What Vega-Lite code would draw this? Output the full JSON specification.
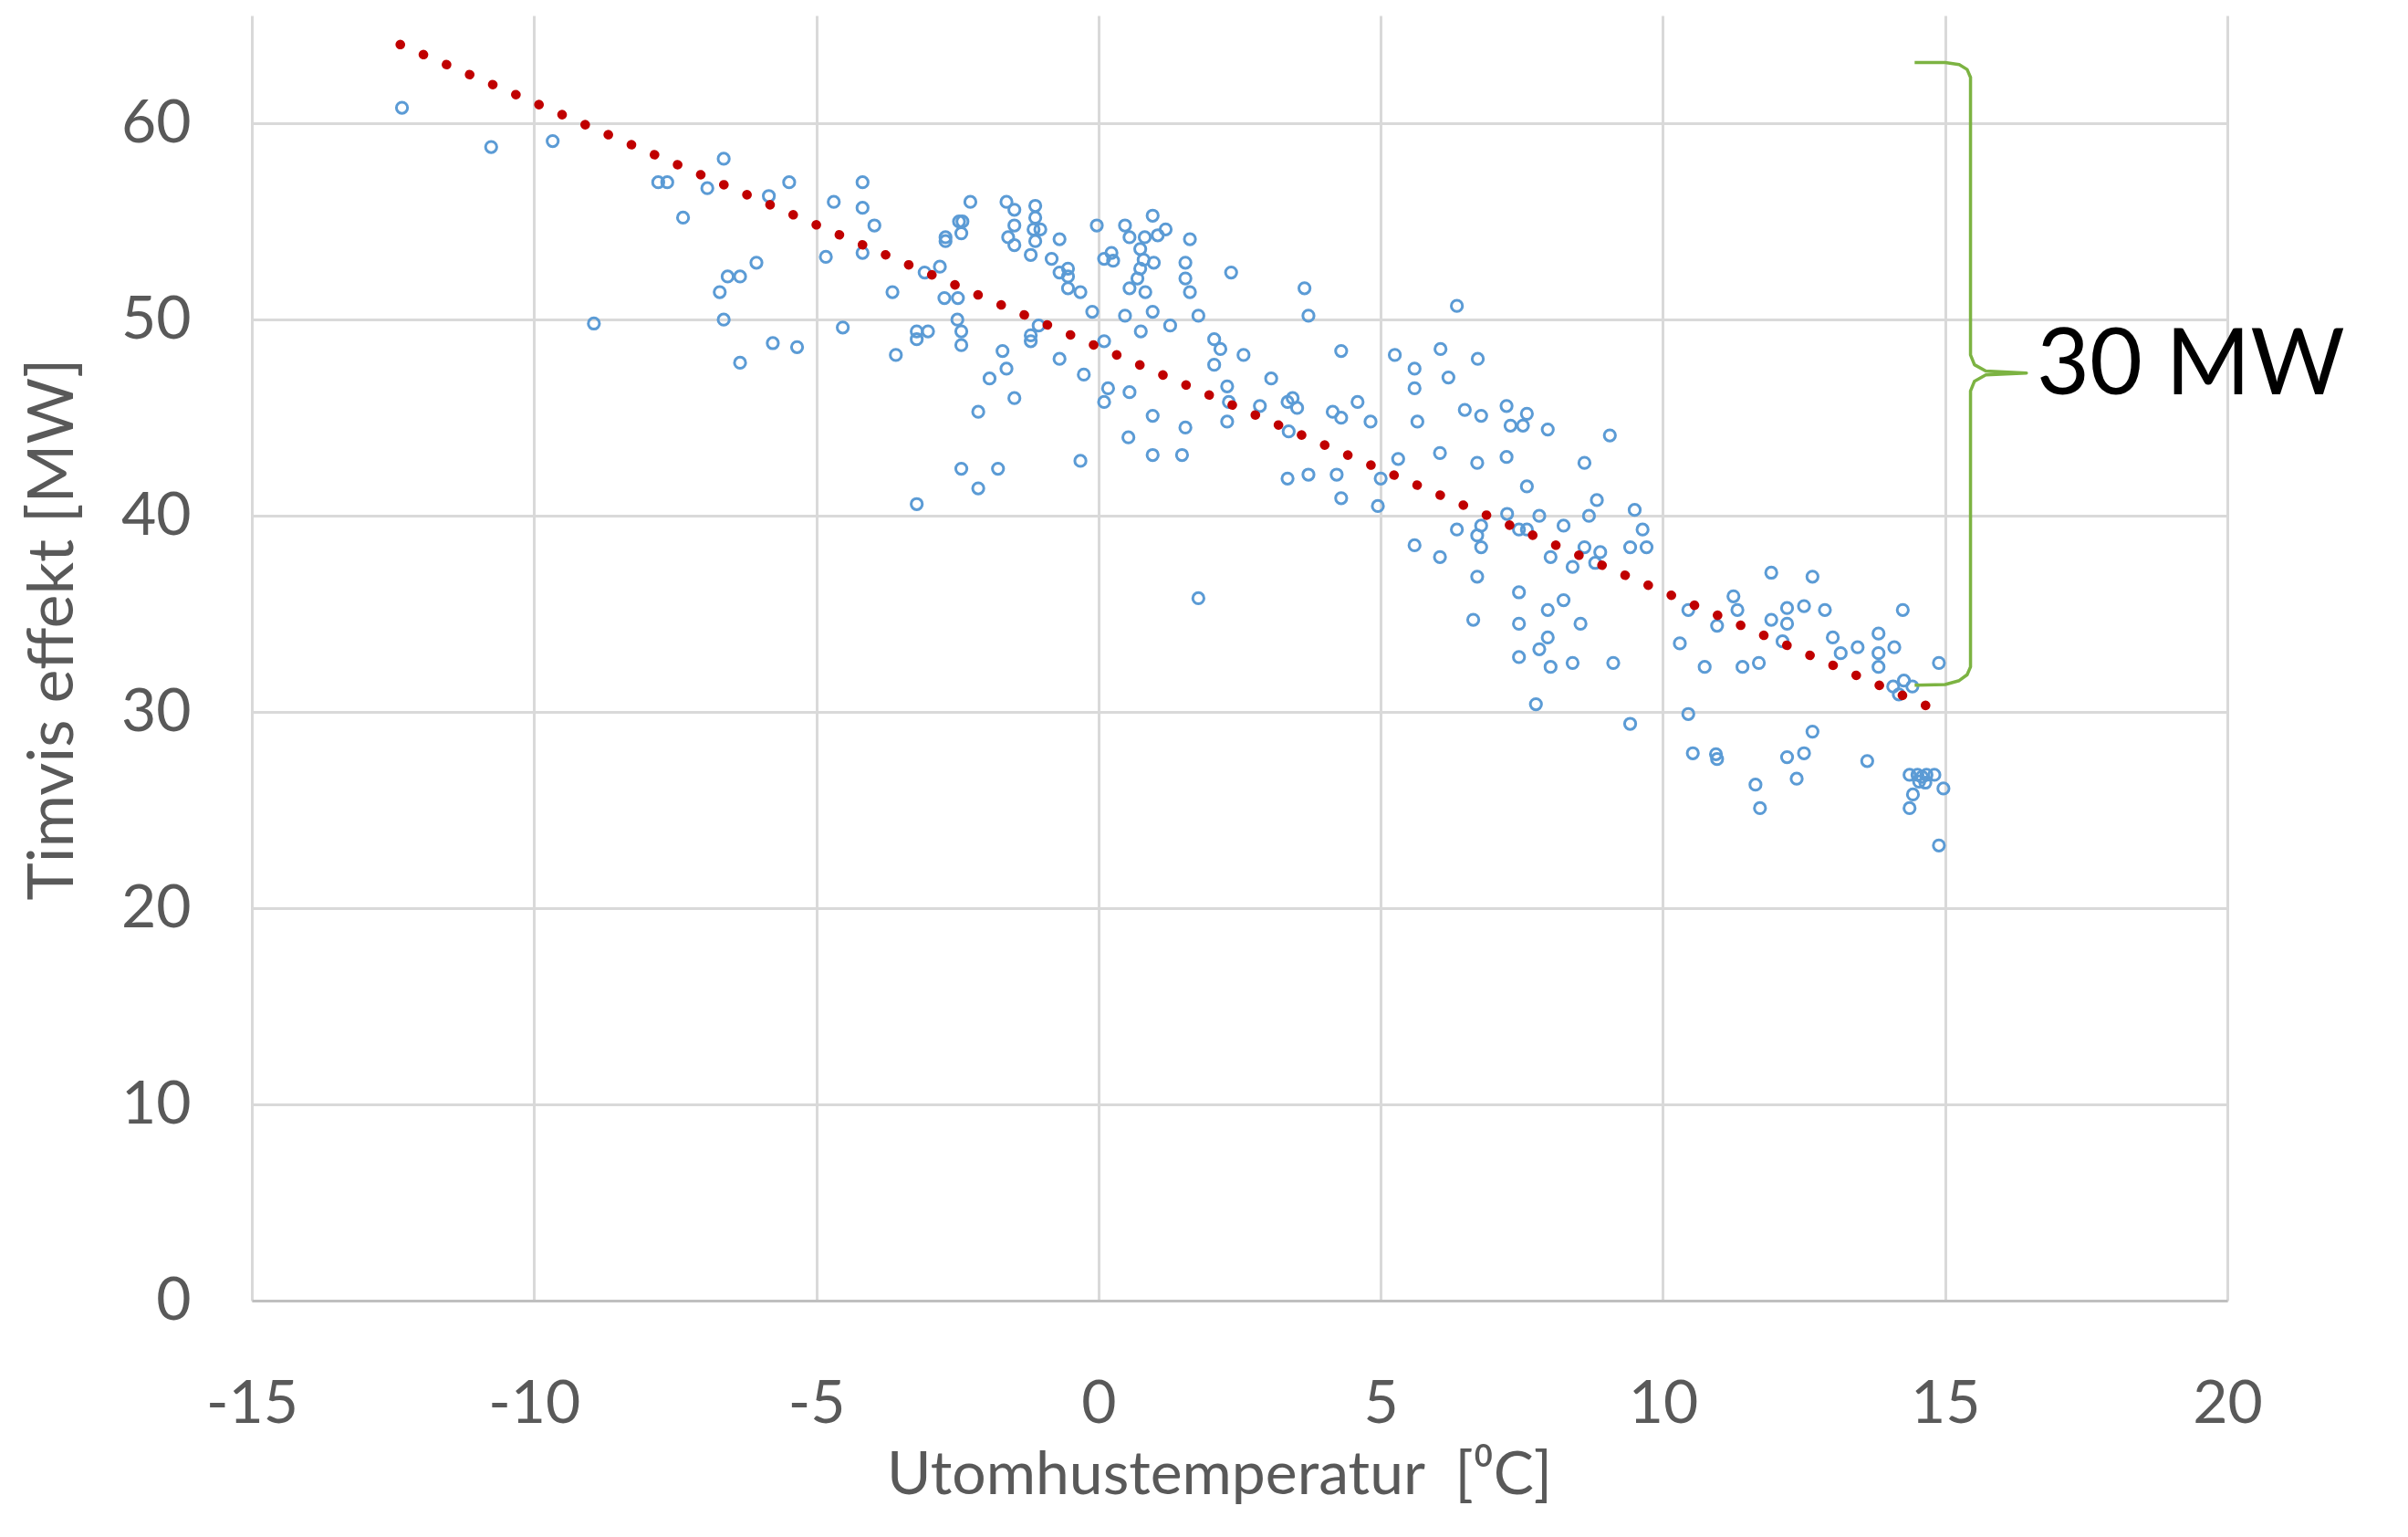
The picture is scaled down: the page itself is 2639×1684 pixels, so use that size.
{
  "$schema": "https://vega.github.io/schema/vega-lite/v6.json",
  "width": 2165,
  "height": 1408,
  "autosize": {"type": "none"},
  "padding": {"left": 276, "top": 17, "right": 198, "bottom": 259},
  "background": "#ffffff",
  "datasets": {
    "pts": [
      {"T":-12.34,"P":60.8},{"T":-10.76,"P":58.8},{"T":-9.67,"P":59.1},{"T":-8.94,"P":49.8},{"T":-6.64,"P":58.2},
      {"T":-7.80,"P":57.0},{"T":-7.64,"P":57.0},{"T":-6.93,"P":56.7},{"T":-7.36,"P":55.2},{"T":-5.84,"P":56.3},
      {"T":-5.48,"P":57.0},{"T":-4.69,"P":56.0},{"T":-4.18,"P":57.0},{"T":-4.18,"P":55.7},{"T":-3.97,"P":54.8},
      {"T":-4.83,"P":53.2},{"T":-4.18,"P":53.4},{"T":-6.06,"P":52.9},{"T":-6.57,"P":52.2},{"T":-6.35,"P":52.2},
      {"T":-6.71,"P":51.4},{"T":-6.64,"P":50.0},{"T":-5.77,"P":48.8},{"T":-5.34,"P":48.6},{"T":-6.35,"P":47.8},
      {"T":-4.53,"P":49.6},
      {"T":-3.65,"P":51.4},{"T":-3.59,"P":48.2},{"T":-3.08,"P":52.4},{"T":-2.81,"P":52.7},{"T":-2.71,"P":54.2},
      {"T":-2.71,"P":54.0},{"T":-2.47,"P":55.0},{"T":-2.41,"P":55.0},{"T":-2.43,"P":54.4},{"T":-2.27,"P":56.0},
      {"T":-2.73,"P":51.1},{"T":-2.49,"P":51.1},{"T":-2.50,"P":50.0},{"T":-2.43,"P":49.4},{"T":-2.43,"P":48.7},
      {"T":-3.22,"P":49.4},{"T":-3.02,"P":49.4},{"T":-3.22,"P":49.0},{"T":-2.13,"P":45.3},{"T":-2.43,"P":42.4},
      {"T":-2.13,"P":41.4},{"T":-1.78,"P":42.4},{"T":-3.22,"P":40.6},{"T":-1.63,"P":56.0},{"T":-1.49,"P":55.6},
      {"T":-1.49,"P":54.8},{"T":-1.49,"P":53.8},{"T":-1.60,"P":54.2},{"T":-1.12,"P":55.8},{"T":-1.12,"P":55.2},
      {"T":-1.15,"P":54.6},{"T":-1.03,"P":54.6},{"T":-1.12,"P":54.0},{"T":-1.20,"P":53.3},{"T":-0.69,"P":54.1},
      {"T":-0.83,"P":53.1},{"T":-0.69,"P":52.4},{"T":-0.54,"P":52.6},{"T":-0.54,"P":52.2},{"T":-0.54,"P":51.6},
      {"T":-0.32,"P":51.4},{"T":-1.06,"P":49.7},{"T":-1.20,"P":49.2},{"T":-1.20,"P":48.9},{"T":-1.70,"P":48.4},
      {"T":-1.63,"P":47.5},{"T":-1.93,"P":47.0},{"T":-1.49,"P":46.0},{"T":-0.69,"P":48.0},{"T":-0.26,"P":47.2},
      {"T":-0.11,"P":50.4},{"T":-0.03,"P":54.8},{"T":-0.32,"P":42.8},{"T":0.10,"P":48.9},{"T":0.23,"P":53.4},
      {"T":0.10,"P":53.1},{"T":0.26,"P":53.0},{"T":0.47,"P":54.8},{"T":0.55,"P":54.2},{"T":0.96,"P":55.3},
      {"T":0.82,"P":54.2},{"T":0.74,"P":53.6},{"T":0.80,"P":53.05},{"T":0.74,"P":52.6},{"T":0.69,"P":52.1},
      {"T":1.05,"P":54.3},{"T":1.19,"P":54.6},{"T":0.98,"P":52.9},{"T":0.55,"P":51.6},{"T":0.83,"P":51.4},
      {"T":0.47,"P":50.2},{"T":0.96,"P":50.4},{"T":0.75,"P":49.4},{"T":1.27,"P":49.7},{"T":1.62,"P":54.1},
      {"T":1.54,"P":52.9},{"T":1.54,"P":52.1},{"T":1.62,"P":51.4},{"T":1.77,"P":50.2},{"T":2.35,"P":52.4},
      {"T":0.17,"P":46.5},{"T":0.10,"P":45.8},{"T":0.55,"P":46.3},{"T":0.53,"P":44.0},{"T":0.96,"P":45.1},
      {"T":1.54,"P":44.5},{"T":0.96,"P":43.1},{"T":1.48,"P":43.1},{"T":1.77,"P":35.8},{"T":2.05,"P":49.0},
      {"T":2.16,"P":48.5},{"T":2.05,"P":47.7},{"T":2.57,"P":48.2},{"T":2.28,"P":46.6},{"T":2.31,"P":45.8},
      {"T":2.28,"P":44.8},{"T":2.86,"P":45.6},{"T":3.06,"P":47.0},{"T":3.35,"P":45.8},{"T":3.44,"P":46.0},
      {"T":3.52,"P":45.5},{"T":3.37,"P":44.3},{"T":3.65,"P":51.6},{"T":3.72,"P":50.2},{"T":4.30,"P":48.4},
      {"T":4.15,"P":45.3},{"T":4.30,"P":45.0},{"T":4.59,"P":45.8},{"T":3.35,"P":41.9},{"T":3.72,"P":42.1},
      {"T":4.22,"P":42.1},{"T":4.30,"P":40.9},{"T":4.82,"P":44.8},{"T":4.95,"P":40.5},{"T":5.00,"P":41.9},
      {"T":5.31,"P":42.9},{"T":5.25,"P":48.2},{"T":5.60,"P":47.5},{"T":5.60,"P":46.5},{"T":5.65,"P":44.8},
      {"T":5.60,"P":38.5},
      {"T":6.35,"P":50.7},{"T":6.06,"P":48.5},{"T":6.72,"P":48.0},{"T":6.20,"P":47.05},{"T":6.05,"P":43.2},
      {"T":6.49,"P":45.4},{"T":6.78,"P":45.1},{"T":7.23,"P":45.6},{"T":7.30,"P":44.6},{"T":7.52,"P":44.6},
      {"T":7.59,"P":45.2},{"T":7.96,"P":44.4},{"T":9.06,"P":44.1},{"T":6.71,"P":42.7},{"T":7.23,"P":43.0},
      {"T":8.61,"P":42.7},{"T":7.59,"P":41.5},{"T":8.83,"P":40.8},{"T":8.69,"P":40.0},{"T":9.50,"P":40.3},
      {"T":9.64,"P":39.3},{"T":6.35,"P":39.3},{"T":6.71,"P":39.0},{"T":6.78,"P":39.5},{"T":6.78,"P":38.4},
      {"T":7.24,"P":40.1},{"T":7.45,"P":39.3},{"T":7.59,"P":39.3},{"T":7.81,"P":40.0},{"T":8.24,"P":39.5},
      {"T":6.71,"P":36.9},{"T":7.45,"P":36.1},{"T":7.96,"P":35.2},{"T":8.24,"P":35.7},{"T":8.54,"P":34.5},
      {"T":6.64,"P":34.7},{"T":7.45,"P":34.5},{"T":7.96,"P":33.8},{"T":7.81,"P":33.2},{"T":7.45,"P":32.8},
      {"T":8.01,"P":32.3},{"T":8.40,"P":32.5},{"T":9.12,"P":32.5},{"T":7.75,"P":30.4},{"T":8.01,"P":37.9},
      {"T":8.40,"P":37.4},{"T":8.61,"P":38.4},{"T":8.89,"P":38.15},{"T":8.80,"P":37.6},{"T":9.42,"P":38.4},
      {"T":9.71,"P":38.4},{"T":9.42,"P":29.4},{"T":6.05,"P":37.9},{"T":10.30,"P":33.5},{"T":10.45,"P":35.2},
      {"T":10.74,"P":32.3},{"T":10.96,"P":34.4},{"T":11.25,"P":35.9},{"T":11.32,"P":35.2},{"T":11.41,"P":32.3},
      {"T":11.70,"P":32.5},{"T":11.92,"P":37.1},{"T":11.92,"P":34.7},{"T":12.20,"P":35.3},{"T":12.20,"P":34.5},
      {"T":12.50,"P":35.4},{"T":12.65,"P":36.9},{"T":12.87,"P":35.2},{"T":12.12,"P":33.6},{"T":13.01,"P":33.8},
      {"T":13.15,"P":33.0},{"T":13.45,"P":33.3},{"T":13.82,"P":34.0},{"T":13.82,"P":33.0},{"T":13.82,"P":32.3},
      {"T":14.10,"P":33.3},{"T":14.25,"P":35.2},{"T":14.08,"P":31.3},{"T":14.27,"P":31.6},{"T":14.42,"P":31.3},
      {"T":14.18,"P":30.9},{"T":10.45,"P":29.9},{"T":10.53,"P":27.9},{"T":10.94,"P":27.85},{"T":10.96,"P":27.6},
      {"T":12.20,"P":27.7},{"T":12.50,"P":27.9},{"T":12.65,"P":29.0},{"T":13.62,"P":27.5},
      {"T":14.37,"P":26.8},{"T":14.51,"P":26.8},{"T":14.59,"P":26.7},{"T":14.67,"P":26.8},{"T":14.81,"P":26.8},
      {"T":14.54,"P":26.45},{"T":14.65,"P":26.4},{"T":14.97,"P":26.1},{"T":14.43,"P":25.8},{"T":14.37,"P":25.1},
      {"T":14.89,"P":23.2},{"T":14.89,"P":32.5},{"T":11.64,"P":26.3},{"T":11.72,"P":25.1},{"T":12.37,"P":26.6}
    ],
    "trend": [
      {"T":-12.37,"P":64.02},{"T":14.70,"P":30.28}
    ],
    "brace": [
      {"T":14.46,"P":63.10,"i":1},{"T":15.00,"P":63.10,"i":2},{"T":15.25,"P":63.00,"i":3},{"T":15.39,"P":62.75,"i":4},
      {"T":15.45,"P":62.35,"i":5},{"T":15.45,"P":48.20,"i":6},{"T":15.52,"P":47.70,"i":7},{"T":15.72,"P":47.38,"i":8},
      {"T":16.44,"P":47.28,"i":9},{"T":15.72,"P":47.18,"i":10},{"T":15.52,"P":46.86,"i":11},{"T":15.45,"P":46.36,"i":12},
      {"T":15.45,"P":32.30,"i":13},{"T":15.39,"P":31.90,"i":14},{"T":15.25,"P":31.60,"i":15},{"T":15.00,"P":31.40,"i":16},
      {"T":14.46,"P":31.37,"i":17}
    ],
    "note": [
      {"T":16.62,"P":46.2,"label":"30 MW"}
    ]
  },
  "encoding": {
    "x": {
      "field": "T", "type": "quantitative",
      "scale": {"domain": [-15, 20], "nice": false, "zero": false},
      "axis": {
        "values": [-15, -10, -5, 0, 5, 10, 15, 20],
        "labelExpr": "'' + datum.value",
        "grid": true, "gridColor": "#d9d9d9", "gridWidth": 3,
        "domain": true, "domainColor": "#bfbfbf", "domainWidth": 3,
        "ticks": false, "tickSize": 0,
        "labelPadding": 81, "labelFontSize": 66, "labelColor": "#595959", "labelFont": "Lato",
        "labelFlush": false, "labelOverlap": false,
        "title": "Utomhustemperatur\u00a0\u00a0[⁰C]",
        "titleFont": "Lato", "titleFontSize": 66, "titleFontWeight": "normal", "titleColor": "#595959",
        "titleBaseline": "alphabetic", "titleAlign": "center", "titleX": 1060, "titleY": 211
      }
    },
    "y": {
      "field": "P", "type": "quantitative",
      "scale": {"domain": [0, 65.5], "nice": false, "zero": true},
      "axis": {
        "values": [0, 10, 20, 30, 40, 50, 60],
        "labelExpr": "'' + datum.value",
        "grid": true, "gridColor": "#d9d9d9", "gridWidth": 3,
        "domain": false, "ticks": false, "tickSize": 0,
        "labelPadding": 67, "labelFontSize": 66, "labelColor": "#595959", "labelFont": "Lato",
        "labelFlush": false, "labelOverlap": false,
        "title": "Timvis effekt [MW]",
        "titleFont": "Lato", "titleFontSize": 70, "titleFontWeight": "normal", "titleColor": "#595959",
        "titleAngle": -90, "titleBaseline": "alphabetic", "titleAlign": "center", "titleX": -197, "titleY": 672
      }
    }
  },
  "layer": [
    {
      "data": {"name": "pts"},
      "mark": {"type": "point", "shape": "circle", "filled": false, "size": 150, "strokeWidth": 3, "color": "#5b9bd5", "opacity": 1}
    },
    {
      "data": {"name": "trend"},
      "mark": {"type": "line", "color": "#c00000", "strokeWidth": 10.5, "strokeDash": [0.1, 27.5], "strokeCap": "round"}
    },
    {
      "data": {"name": "brace"},
      "mark": {"type": "line", "color": "#7cb342", "strokeWidth": 3.5, "interpolate": "linear", "strokeJoin": "round"},
      "encoding": {"order": {"field": "i", "type": "quantitative"}}
    },
    {
      "data": {"name": "note"},
      "mark": {"type": "text", "align": "left", "baseline": "alphabetic", "fontSize": 100, "font": "Lato", "color": "#000000"},
      "encoding": {"text": {"field": "label", "type": "nominal"}}
    }
  ],
  "config": {
    "view": {"stroke": null},
    "font": "Lato"
  }
}
